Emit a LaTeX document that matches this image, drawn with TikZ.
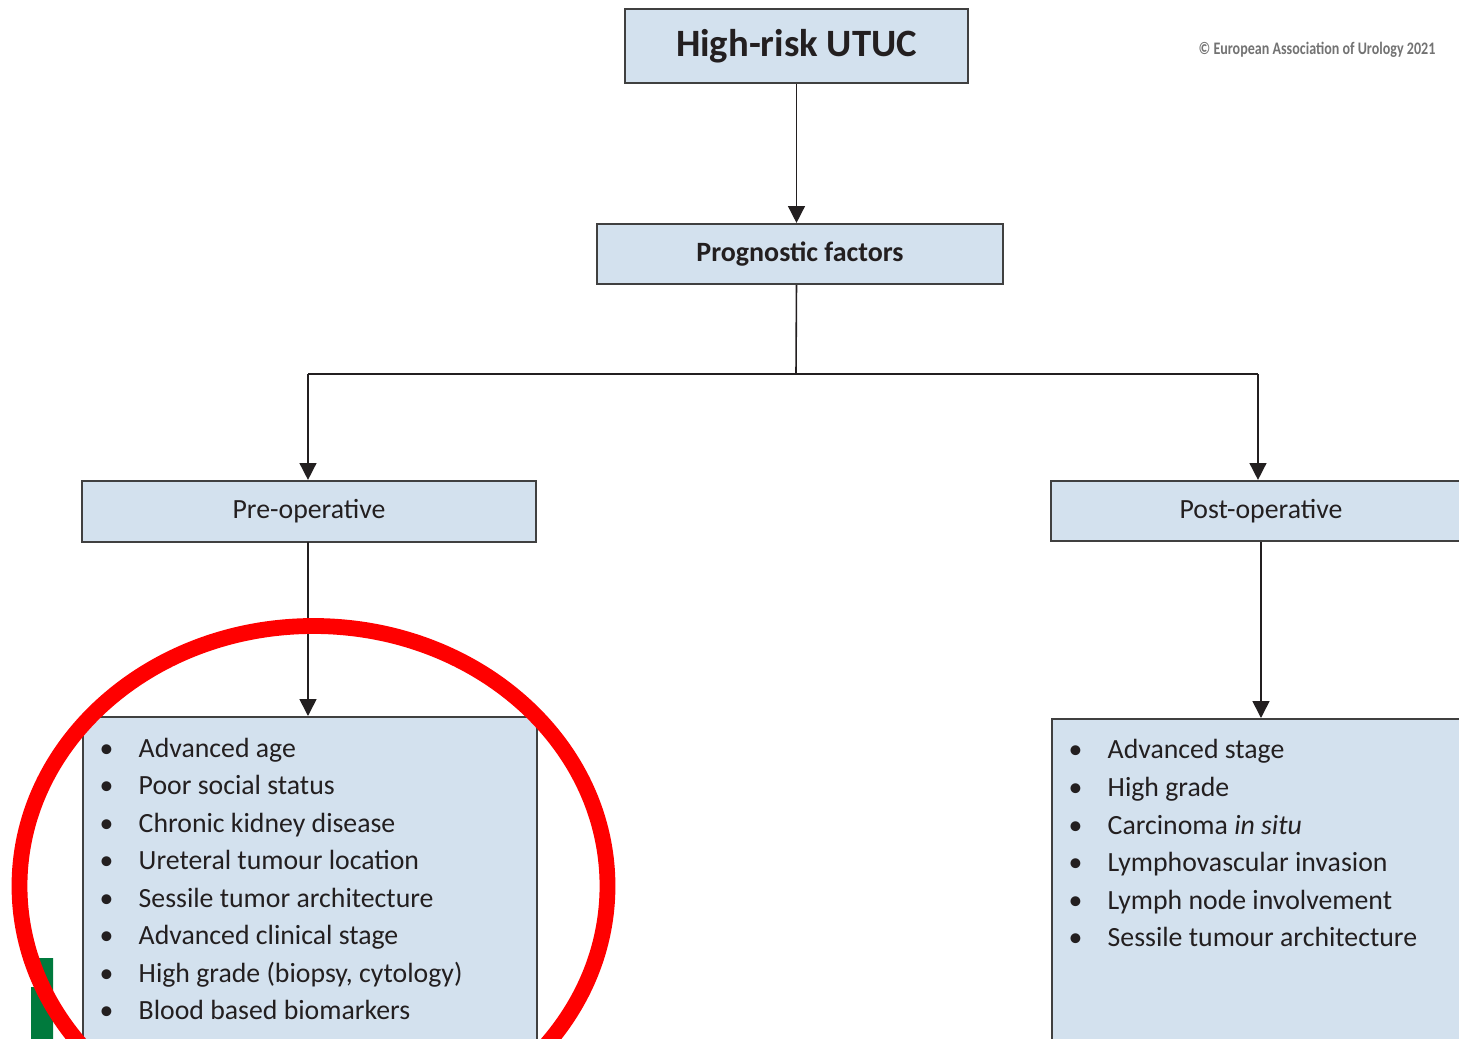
\documentclass[tikz,border=0pt]{standalone}
\usepackage{fontspec}
\setmainfont{Carlito}
\usetikzlibrary{arrows.meta}

\definecolor{boxblue}{RGB}{211,225,238}
\definecolor{boxline}{RGB}{64,64,64}
\definecolor{inkdark}{RGB}{35,31,32}
\definecolor{eaugreen}{RGB}{0,122,61}
\definecolor{copygrey}{RGB}{115,115,115}
\definecolor{markred}{RGB}{255,0,0}

\tikzset{
  flowbox/.style={draw=boxline, line width=0.6pt, fill=boxblue, text=inkdark, inner sep=0pt},
  flowline/.style={draw=inkdark, line width=0.45pt},
  flowarrow/.style={flowline, -{Triangle[length=4.8pt,width=4.8pt]}},
  listtext/.style={anchor=north west, align=left, inner sep=0pt, text=inkdark,
    font=\fontsize{7.9}{10.67}\selectfont},
}
\newcommand{\bulitem}[1]{\makebox[0.39cm][l]{\textbullet}#1}

\begin{document}
\begin{tikzpicture}[x=0.01cm, y=-0.01cm]
            % Page
            \clip (0,0) rectangle (1459,1039);
            \fill[white] (0,0) rectangle (1459,1039);

            % Boxes
            \node[flowbox, minimum width=3.43cm, minimum height=0.74cm,
                  font=\fontsize{11}{13}\selectfont\bfseries] (utuc) at (796.5,46) {High-risk UTUC};
            \node[flowbox, minimum width=4.06cm, minimum height=0.60cm,
                  font=\fontsize{7.95}{10}\selectfont\bfseries] (factors) at (800,254) {Prognostic factors};
            \node[flowbox, minimum width=4.54cm, minimum height=0.61cm,
                  font=\fontsize{7.9}{10}\selectfont] (preop) at (309,511.5) {Pre-operative};
            \node[flowbox, minimum width=4.20cm, minimum height=0.60cm,
                  font=\fontsize{7.9}{10}\selectfont] (postop) at (1261,511) {Post-operative};
            \node[flowbox, anchor=north west, minimum width=4.54cm, minimum height=4.0cm] (prebox) at (82,716) {};
            \node[flowbox, anchor=north west, minimum width=4.20cm, minimum height=4.0cm] (postbox) at (1051,718) {};

            % Lists
            \node[listtext] (prelist) at (99,737) {%
              \bulitem{Advanced age}\\
              \bulitem{Poor social status}\\
              \bulitem{Chronic kidney disease}\\
              \bulitem{Ureteral tumour location}\\
              \bulitem{Sessile tumor architecture}\\
              \bulitem{Advanced clinical stage}\\
              \bulitem{High grade (biopsy, cytology)}\\
              \bulitem{Blood based biomarkers}};
            \node[listtext] (postlist) at (1068,739) {%
              \bulitem{Advanced stage}\\
              \bulitem{High grade}\\
              \bulitem{Carcinoma \textit{in situ}}\\
              \bulitem{Lymphovascular invasion}\\
              \bulitem{Lymph node involvement}\\
              \bulitem{Sessile tumour architecture}};

            % Connectors
            \coordinate (split) at (796,374);
            \coordinate (preturn) at (308,374);
            \coordinate (postturn) at (1258,374);
            \draw[flowarrow] (utuc.south) -- (utuc.south |- factors.north);
            \draw[flowline] (utuc.south |- factors.south) -- (split);
            \draw[flowline] (preturn) -- (postturn);
            \draw[flowarrow] (preturn) -- (preturn |- preop.north);
            \draw[flowarrow] (postturn) -- (postturn |- postop.north);
            \draw[flowarrow] (308,542) -- (308,716);
            \draw[flowarrow] (postop.south) -- (postop.south |- postbox.north);

            % Copyright
            \node[text=copygrey, font=\fontsize{5}{6}\selectfont\bfseries] (copy) at (1317,50)
              {\scalebox{0.8}[1]{\textcopyright{} European Association of Urology 2021}};

            % Logo edge and red mark
            \fill[eaugreen] (37,958) -- (53,958) -- (53,1039) -- (31,1039) -- (31,987) -- (37,987) -- cycle;
            \draw[markred, line width=4.5pt] (313.5,886) ellipse [x radius=294, y radius=260];
        \end{tikzpicture}
\end{document}
